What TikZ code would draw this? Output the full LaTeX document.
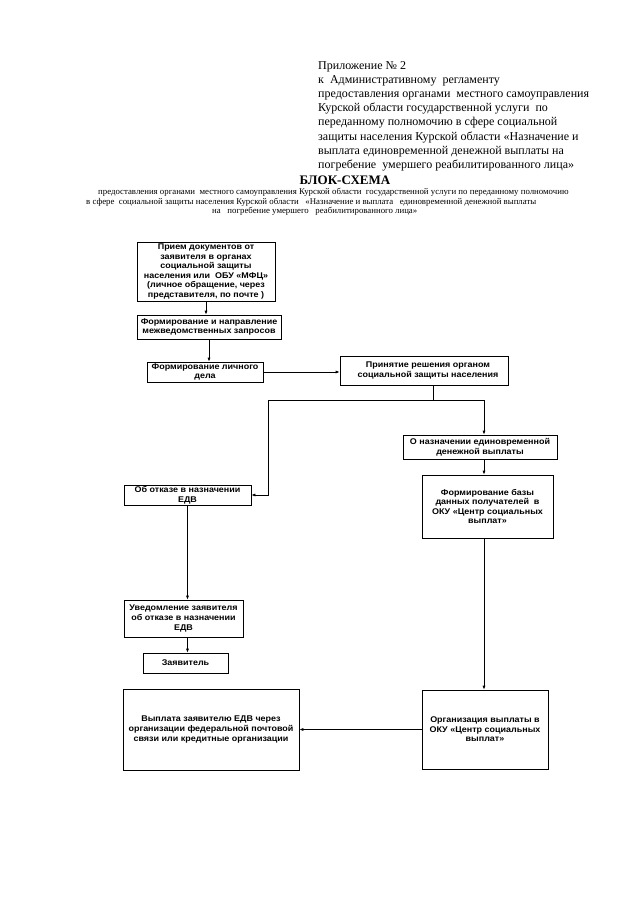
\documentclass[tikz,border=0pt]{standalone}
\usepackage{fontspec}
\setmainfont{Liberation Serif}
\newfontfamily\boxsans[FakeStretch=1.08]{Liberation Sans}
\usetikzlibrary{arrows.meta}
\begin{document}
\begin{tikzpicture}[x=1pt,y=-1pt,
  box/.style={draw, line width=0.7pt, inner sep=0pt, align=center,
    font=\boxsans\bfseries\fontsize{8.3}{9.6}\selectfont},
  ln/.style={line width=0.7pt},
  arr/.style={line width=0.7pt, -{Latex[length=4pt,width=3pt]}},
  hdr/.style={anchor=base west, inner sep=0pt, font=\fontsize{12}{14}\selectfont},
  sub/.style={anchor=base west, inner sep=0pt, font=\fontsize{8.8}{9.5}\selectfont}]
\useasboundingbox[fill=white] (0,0) rectangle (640,905);
% header
\node[hdr] (h1) at (318,69.5) {Приложение № 2};
\node[hdr] (h2) at (318,83.6) {к\ \ Административному\ \ регламенту};
\node[hdr] (h3) at (318,97.7) {предоставления органами\ \ местного самоуправления};
\node[hdr] (h4) at (318,111.8) {Курской области государственной услуги\ \ по};
\node[hdr] (h5) at (318,125.9) {переданному полномочию в сфере социальной};
\node[hdr] (h6) at (318,140.0) {защиты населения Курской области «Назначение и};
\node[hdr] (h7) at (318,154.1) {выплата единовременной денежной выплаты на};
\node[hdr] (h8) at (318,168.2) {погребение\ \ умершего реабилитированного лица»};
% title
\node[anchor=base, inner sep=0pt, font=\bfseries\fontsize{13}{15}\selectfont] (t) at (345,184.5) {БЛОК-СХЕМА};
\node[sub] (s1) at (98,194.5) {предоставления органами\ \ местного самоуправления Курской области\ \ государственной услуги по переданному полномочию};
\node[sub] (s2) at (86,204) {в сфере\ \ социальной защиты населения Курской области\ \ \ «Назначение и выплата\ \ \ единовременной денежной выплаты};
\node[sub] (s3) at (212,213.5) {на\ \ \ погребение умершего\ \ \ реабилитированного лица»};
% boxes
\node[box, minimum width=138, minimum height=59] (b1) at (206,271.5) {Прием документов от\\заявителя в органах\\социальной защиты\\населения или\ \ ОБУ «МФЦ»\\(личное обращение, через\\представителя, по почте )};
\node[box, minimum width=144, minimum height=24] (b2) at (209,327) {Формирование и направление\\межведомственных запросов};
\node[box, minimum width=116, minimum height=20] (b3) at (205,372) {Формирование личного\\дела};
\node[box, minimum width=168, minimum height=29] (b4) at (424,370.5) {\hspace*{8pt}Принятие решения органом\\\hspace*{8pt}социальной защиты населения};
\node[box, minimum width=154, minimum height=24] (b5) at (480,447) {О назначении единовременной\\денежной выплаты};
\node[box, minimum width=131, minimum height=63] (b6) at (487.5,506.5) {Формирование базы\\данных получателей\ \ в\\ОКУ «Центр социальных\\выплат»};
\node[box, minimum width=126, minimum height=79] (b7) at (485,729.5) {Организация выплаты в\\ОКУ «Центр социальных\\выплат»};
\node[box, minimum width=176, minimum height=81] (b8) at (211,729.5) {Выплата заявителю ЕДВ через\\организации федеральной почтовой\\связи или кредитные организации};
\node[box, minimum width=127, minimum height=20] (b9) at (187.5,495) {Об отказе в назначении\\ЕДВ};
\node[box, minimum width=119, minimum height=37] (b10) at (183.5,618.5) {Уведомление заявителя\\об отказе в назначении\\ЕДВ};
\node[box, minimum width=85, minimum height=20] (b11) at (185.5,663) {Заявитель};
% connectors
\coordinate (j) at (433,400);
\coordinate (jl) at (268,400);
\coordinate (jr) at (484,400);
\draw[arr] (b1.south) -- (b1.south |- b2.north);
\draw[arr] (b2.south) -- (b2.south |- b3.north);
\draw[arr] (b3.east) -- (b3.east -| b4.west);
\draw[ln] (j |- b4.south) -- (j);
\draw[ln] (jl) -- (jr);
\draw[arr] (jr) -- (jr |- b5.north);
\draw[arr] (jl) |- (b9.east);
\draw[arr] (jr |- b5.south) -- (jr |- b6.north);
\draw[arr] (jr |- b6.south) -- (jr |- b7.north);
\draw[arr] (b7.west) -- (b7.west -| b8.east);
\draw[arr] (b9.south) -- (b9.south |- b10.north);
\draw[arr] (b9.south |- b10.south) -- (b9.south |- b11.north);
\end{tikzpicture}
\end{document}
